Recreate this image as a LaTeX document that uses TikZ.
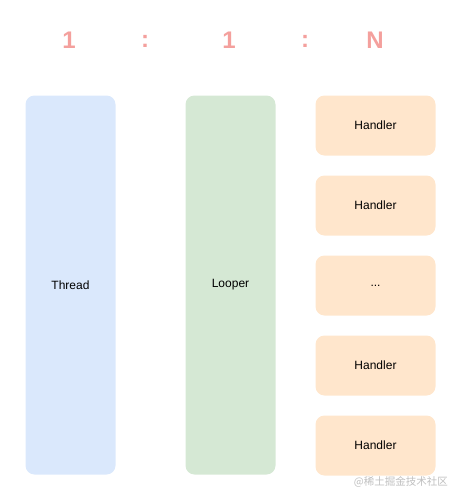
\documentclass[tikz,border=0pt]{standalone}
\usepackage{fontspec}
\setmainfont{Liberation Sans}
\newfontfamily\cjk{Noto Sans CJK SC}
\usepackage{tikz}
\usetikzlibrary{positioning}
\definecolor{ratiored}{HTML}{F4A09D}
\definecolor{threadblue}{HTML}{DAE8FC}
\definecolor{loopergreen}{HTML}{D5E8D4}
\definecolor{handlerorange}{HTML}{FFE6CC}
\tikzstyle{ratio}=[text=ratiored, font=\fontsize{24}{24}\selectfont\bfseries]
\tikzstyle{tallbox}=[rounded corners=9pt, minimum width=90pt, minimum height=379pt, inner sep=0pt, outer sep=0pt, font=\fontsize{12}{12}\selectfont]
\tikzstyle{handlerbox}=[fill=handlerorange, rounded corners=9pt, minimum width=120pt, minimum height=60pt, inner sep=0pt, outer sep=0pt, font=\fontsize{12}{12}\selectfont]

\begin{document}
\begin{tikzpicture}[x=1pt, y=-1pt]
    \useasboundingbox (0,0) rectangle (461,501);

    % 比率の表示
    \node[ratio] (one1) at (69,40) {1};
    \node[ratio] (colon1) at (145,41) {:};
    \node[ratio] (one2) at (229,40) {1};
    \node[ratio] (colon2) at (305,41) {:};
    \node[ratio] (many) at (375,40) {N};

    % Thread と Looper
    \node[tallbox, fill=threadblue] (thread) at (70.5,285) {Thread};
    \node[tallbox, fill=loopergreen] (looper) at (230.5,285) {Looper};

    % Handler の列
    \node[handlerbox] (h1) at (375.5,125.5) {Handler};
    \node[handlerbox, below=20pt of h1] (h2) {Handler};
    \node[handlerbox, below=20pt of h2] (h3) {...};
    \node[handlerbox, below=20pt of h3] (h4) {Handler};
    \node[handlerbox, below=20pt of h4] (h5) {Handler};

    % 透かし
    \node[text=black!25, font=\cjk\fontsize{10.5}{10.5}\selectfont, anchor=east, inner sep=0pt] (mark) at (448,482) {@稀土掘金技术社区};
\end{tikzpicture}
\end{document}
